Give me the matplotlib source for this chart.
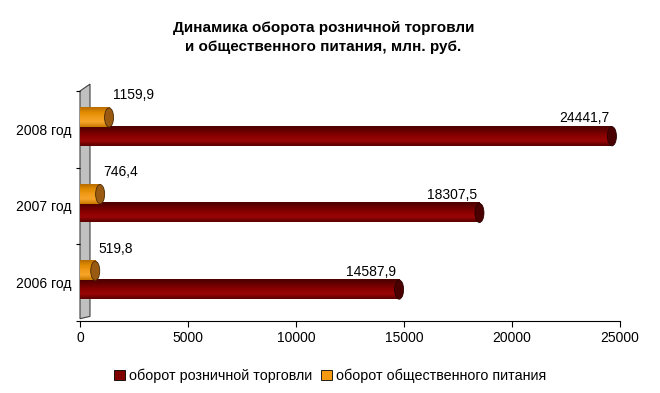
import matplotlib.pyplot as plt
import numpy as np
from matplotlib.patches import Ellipse, Polygon
from matplotlib.colors import LinearSegmentedColormap

plt.rcParams['font.family'] = ['Liberation Sans', 'DejaVu Sans']

years = ['2006 год', '2007 год', '2008 год']
retail = [14587.9, 18307.5, 24441.7]
catering = [519.8, 746.4, 1159.9]
retail_labels = ['14587,9', '18307,5', '24441,7']
catering_labels = ['519,8', '746,4', '1159,9']

series_names = ['оборот розничной торговли', 'оборот общественного питания']

red_cmap = LinearSegmentedColormap.from_list('r', ['#5a0000', '#9a0606', '#8a0000', '#6a0000', '#4a0000'])
orange_cmap = LinearSegmentedColormap.from_list('o', ['#c87a00', '#f6a52a', '#f09a18', '#e08a00', '#b86c00'])

px_x = 25000 / 540   # data units per pixel along x
depth = 4 * px_x     # 3d depth shift of the bar end


def draw_cylinder(ax, y, value, h, cmap, cap_color, edge_color):
    grad = np.linspace(0, 1, 50).reshape(-1, 1)
    ax.imshow(grad, cmap=cmap, aspect='auto', extent=[0, value + depth, y + h / 2, y - h / 2],
              zorder=3, interpolation='bilinear')
    cap = Ellipse((value + depth, y), 9 * px_x, h, facecolor=cap_color, edgecolor=edge_color,
                  linewidth=0.6, zorder=4)
    ax.add_patch(cap)


fig = plt.figure(figsize=(6.6, 3.93), dpi=100)
ax = fig.add_axes([80 / 660, 72 / 393, 540 / 660, 230 / 393])
ax.set_xlim(0, 25000)
ax.set_ylim(-0.5, 2.5)

h = 0.25
pos = np.arange(len(years))

# grey side wall
wall = Polygon([(0, 0.01), (0.0185, 0.02), (0.0185, 1.03), (0, 1.0)], closed=True,
               transform=ax.transAxes, facecolor='#c0c0c0', edgecolor='#404040',
               linewidth=0.8, zorder=1, clip_on=False)
ax.add_patch(wall)

for i in pos:
    draw_cylinder(ax, i - 0.09, retail[i], h, red_cmap, '#4a0000', '#2a0000')
    draw_cylinder(ax, i + 0.155, catering[i], h, orange_cmap, '#9a5a12', '#4a2a00')
    ax.annotate(retail_labels[i], (retail[i] + depth, i - 0.09), xytext=(-2, 13),
                textcoords='offset points', ha='right', va='center', fontsize=10)
    ax.annotate(catering_labels[i], (catering[i] + depth, i + 0.155), xytext=(2.5, 16),
                textcoords='offset points', ha='left', va='center', fontsize=10)

for s in ['top', 'right', 'left']:
    ax.spines[s].set_visible(False)
ax.spines['bottom'].set_linewidth(0.8)

ax.set_yticks(pos)
ax.set_yticklabels(years, fontsize=10)
ax.tick_params(axis='y', length=0, pad=6)
ax.set_yticks([-0.5, 0.5, 1.5, 2.5], minor=True)
ax.tick_params(axis='y', which='minor', length=3, width=0.8)
ax.set_xticks([0, 5000, 10000, 15000, 20000, 25000])
ax.tick_params(axis='x', length=4, width=0.8, labelsize=10, pad=3)

fig.text(0.49, 1 - 37.5 / 393, 'Динамика оборота розничной торговли\nи общественного питания, млн. руб.',
         ha='center', va='center', fontsize=11, fontweight='bold', linespacing=1.45)

handles = [plt.Rectangle((0, 0), 1, 1, facecolor='#800000', edgecolor='black', linewidth=0.6),
           plt.Rectangle((0, 0), 1, 1, facecolor='#f59a10', edgecolor='black', linewidth=0.6)]
fig.legend(handles, series_names, loc='center', bbox_to_anchor=(0.5, 1 - 376 / 393), ncol=2,
           frameon=False, fontsize=10.3, handlelength=0.75, handleheight=0.75,
           handletextpad=0.3, columnspacing=0.6)

fig.savefig('out.png', dpi=100)
